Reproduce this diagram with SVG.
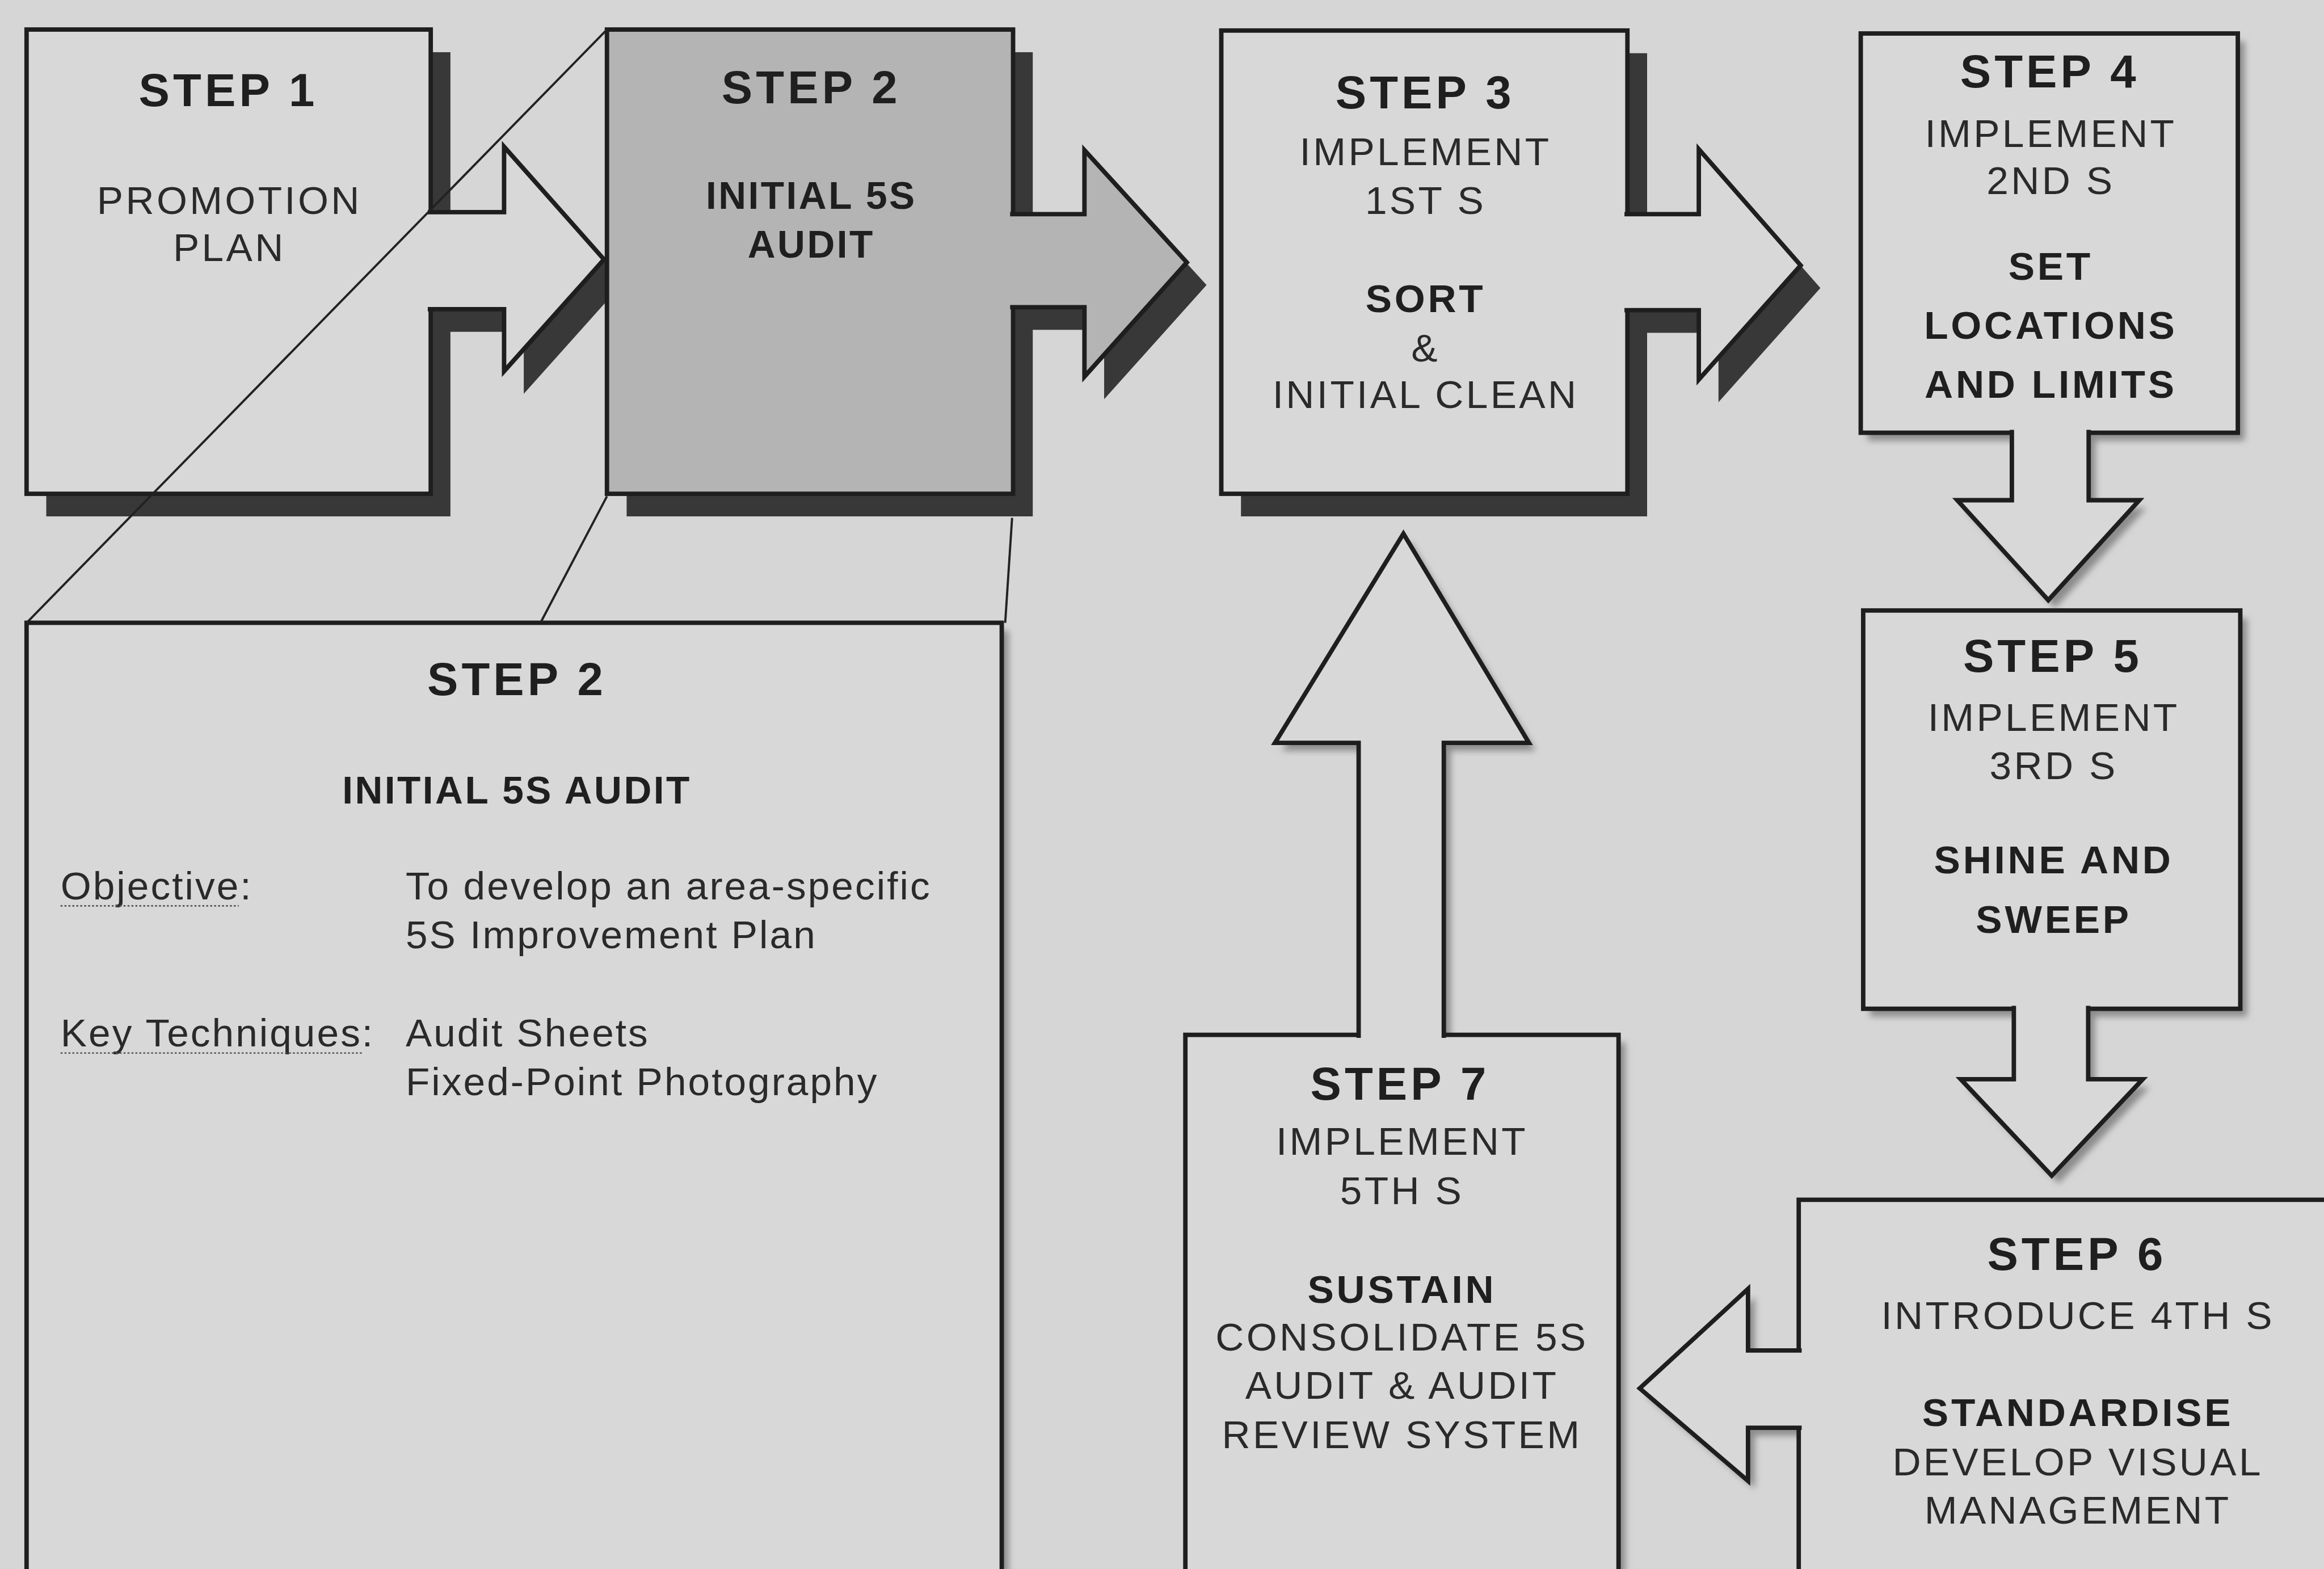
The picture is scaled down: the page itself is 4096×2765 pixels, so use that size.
<svg xmlns="http://www.w3.org/2000/svg" width="4096" height="2765" viewBox="0 0 4096 2765">
  <defs>
    <style>
      .bg { fill: #d6d6d6; }
      .box { fill: #d8d8d8; stroke: #1e1e1e; stroke-width: 9; }
      .gray { fill: #b4b4b4; }
      .arr { fill: #d8d8d8; stroke: #1e1e1e; stroke-width: 9; stroke-linejoin: miter; }
      .arr.gray { fill: #b4b4b4; }
      .dark { fill: #383838; }
      .soft { fill: #8c8c8c; }
      .call { stroke: #222; stroke-width: 4.5; fill: none; }
      .dot { stroke: #555; stroke-width: 3; stroke-dasharray: 4 4; fill: none; }
      text { font-family: "Liberation Sans", Arial, Helvetica, sans-serif; fill: #1f1f1f; }
      .c { text-anchor: middle; }
      .h { font-size: 94px; font-weight: bold; letter-spacing: 7px; }
      .r { font-size: 80px; letter-spacing: 5px; fill: #2a2a2a; }
      .b { font-size: 80px; font-weight: bold; letter-spacing: 5.5px; }
      .b2 { font-size: 78px; font-weight: bold; letter-spacing: 4px; }
      .d { font-size: 80px; letter-spacing: 3.5px; fill: #2a2a2a; }
    </style>
    <filter id="blur" x="-10%" y="-10%" width="120%" height="120%">
      <feGaussianBlur stdDeviation="7"/>
    </filter>
  </defs>

  <rect class="bg" x="0" y="0" width="4096" height="2765"/>

  <g transform="scale(0.8676)">
    <g id="shadows">
      <g transform="translate(40,46)">
        <path class="dark" d="M 54 60 H 875 V 431 H 1024 V 298 L 1227 527 L 1024 754 V 628 H 875 V 1003 H 54 Z"/>
        <path class="dark" d="M 1233 60 H 2058 V 435 H 2203 V 305 L 2411 533 L 2203 765 V 624 H 2058 V 1003 H 1233 Z"/>
        <path class="dark" d="M 2481 62 H 3306 V 435 H 3451 V 303 L 3658 539 L 3451 771 V 630 H 3306 V 1003 H 2481 Z"/>
      </g>
      <g transform="translate(14,16)" filter="url(#blur)">
        <path class="soft" d="M 3780 68 H 4546 V 879 H 4243 V 1016 H 4346 L 4161 1219 L 3976 1016 H 4087 V 879 H 3780 Z"/>
        <path class="soft" d="M 3785 1240 H 4551 V 2049 H 4242 V 2192 H 4353 L 4168 2388 L 3983 2192 H 4091 V 2049 H 3785 Z"/>
        <path class="soft" d="M 3654 2437 H 4800 V 3300 H 3654 V 2900 H 3551 V 3008 L 3331 2820 L 3551 2618 V 2743 H 3654 Z"/>
        <path class="soft" d="M 2408 2102 H 2760 V 1509 H 2590 L 2851 1084 L 3106 1509 H 2933 V 2102 H 3288 V 3300 H 2408 Z"/>
        <rect class="soft" x="54" y="1265" width="1981" height="2100"/>
      </g>
    </g>

    <g id="step2-detail">
      <rect class="box" x="54" y="1265" width="1981" height="2100"/>
      <text class="h c" x="1050" y="1412">STEP 2</text>
      <text class="b2 c" x="1050" y="1632">INITIAL 5S AUDIT</text>
      <text class="d" x="123" y="1827">Objective:</text>
      <line class="dot" x1="123" y1="1840" x2="485" y2="1840"/>
      <text class="d" x="824" y="1827">To develop an area-specific</text>
      <text class="d" x="824" y="1926">5S Improvement Plan</text>
      <text class="d" x="123" y="2125">Key Techniques:</text>
      <line class="dot" x1="123" y1="2139" x2="739" y2="2139"/>
      <text class="d" x="824" y="2125">Audit Sheets</text>
      <text class="d" x="824" y="2225">Fixed-Point Photography</text>
    </g>

    <g id="step1">
      <rect class="box" x="54" y="60" width="821" height="943"/>
      <text class="h c" x="464" y="216">STEP 1</text>
      <text class="r c" x="466" y="435">PROMOTION</text>
      <text class="r c" x="466" y="530">PLAN</text>
    </g>

    <g id="step2">
      <rect class="box gray" x="1233" y="60" width="825" height="943"/>
      <text class="h c" x="1648" y="210">STEP 2</text>
      <text class="b2 c" x="1648" y="424">INITIAL 5S</text>
      <text class="b2 c" x="1648" y="523">AUDIT</text>
    </g>

    <g id="step3">
      <rect class="box" x="2481" y="62" width="825" height="941"/>
      <text class="h c" x="2895" y="220">STEP 3</text>
      <text class="r c" x="2896" y="336">IMPLEMENT</text>
      <text class="r c" x="2896" y="435">1ST S</text>
      <text class="b c" x="2896" y="634">SORT</text>
      <text class="r c" x="2896" y="734">&amp;</text>
      <text class="r c" x="2896" y="829">INITIAL CLEAN</text>
    </g>

    <g id="step4">
      <rect class="box" x="3780" y="68" width="766" height="811"/>
      <text class="h c" x="4164" y="178">STEP 4</text>
      <text class="r c" x="4166" y="298">IMPLEMENT</text>
      <text class="r c" x="4166" y="394">2ND S</text>
      <text class="b c" x="4166" y="568">SET</text>
      <text class="b c" x="4166" y="688">LOCATIONS</text>
      <text class="b c" x="4166" y="808">AND LIMITS</text>
    </g>

    <g id="step5">
      <rect class="box" x="3785" y="1240" width="766" height="809"/>
      <text class="h c" x="4170" y="1365">STEP 5</text>
      <text class="r c" x="4172" y="1484">IMPLEMENT</text>
      <text class="r c" x="4172" y="1582">3RD S</text>
      <text class="b c" x="4172" y="1774">SHINE AND</text>
      <text class="b c" x="4172" y="1895">SWEEP</text>
    </g>

    <g id="step6">
      <rect class="box" x="3654" y="2437" width="1200" height="900"/>
      <text class="h c" x="4219" y="2579">STEP 6</text>
      <text class="r c" x="4221" y="2699">INTRODUCE 4TH S</text>
      <text class="b c" x="4221" y="2897">STANDARDISE</text>
      <text class="r c" x="4221" y="2997">DEVELOP VISUAL</text>
      <text class="r c" x="4221" y="3095">MANAGEMENT</text>
    </g>

    <g id="step7">
      <rect class="box" x="2408" y="2102" width="880" height="1200"/>
      <text class="h c" x="2844" y="2234">STEP 7</text>
      <text class="r c" x="2848" y="2346">IMPLEMENT</text>
      <text class="r c" x="2848" y="2446">5TH S</text>
      <text class="b c" x="2848" y="2646">SUSTAIN</text>
      <text class="r c" x="2848" y="2743">CONSOLIDATE 5S</text>
      <text class="r c" x="2848" y="2841">AUDIT &amp; AUDIT</text>
      <text class="r c" x="2848" y="2941">REVIEW SYSTEM</text>
    </g>

    <g id="connectors">
      <path id="arrow-1-2" class="arr" d="M 869 431 H 1024 V 298 L 1227 527 L 1024 754 V 628 H 869"/>
      <path id="arrow-2-3" class="arr gray" d="M 2052 435 H 2203 V 305 L 2411 533 L 2203 765 V 624 H 2052"/>
      <path id="arrow-3-4" class="arr" d="M 3300 435 H 3451 V 303 L 3658 539 L 3451 771 V 630 H 3300"/>
      <path id="arrow-4-5" class="arr" d="M 4087 873 V 1016 H 3976 L 4161 1219 L 4346 1016 H 4243 V 873"/>
      <path id="arrow-5-6" class="arr" d="M 4091 2043 V 2192 H 3983 L 4168 2388 L 4353 2192 H 4242 V 2043"/>
      <path id="arrow-6-7" class="arr" d="M 3660 2743 H 3551 V 2618 L 3331 2820 L 3551 3008 V 2900 H 3660"/>
      <path id="arrow-7-3" class="arr" d="M 2760 2108 V 1509 H 2590 L 2851 1084 L 3106 1509 H 2933 V 2108"/>
    </g>

    <g id="callout">
      <line class="call" x1="1233" y1="60" x2="54" y2="1265"/>
      <line class="call" x1="1233" y1="1008" x2="1098" y2="1265"/>
      <line class="call" x1="2056" y1="1052" x2="2042" y2="1265"/>
    </g>
  </g>
</svg>
